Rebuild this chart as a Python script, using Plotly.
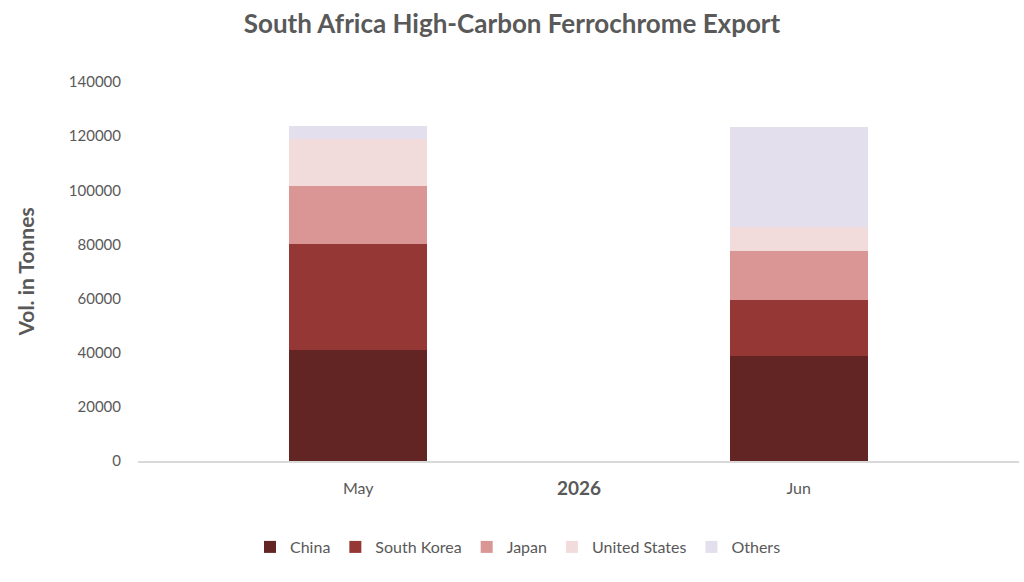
import plotly.graph_objects as go

categories = ["May", "Jun"]
series_names = ["China", "South Korea", "Japan", "United States", "Others"]
china = [41100, 38900]
south_korea = [39000, 20700]
japan = [21400, 18000]
united_states = [17300, 8850]
others = [5000, 37100]
colors = ["#632523", "#953735", "#D99694", "#F2DCDB", "#E4DFEC"]
y_ticks = [0, 20000, 40000, 60000, 80000, 100000, 120000, 140000]
y_tick_labels = [str(v) for v in y_ticks]

values = [china, south_korea, japan, united_states, others]
FONT = "Lato, Open Sans, sans-serif"
GRAY = "#595959"

fig = go.Figure()
for name, vals, col in zip(series_names, values, colors):
    fig.add_trace(go.Bar(x=categories, y=vals, name=name,
                         marker=dict(color=col, line=dict(width=0))))

fig.update_layout(
    barmode="stack",
    bargap=0.687,
    width=1024, height=582,
    paper_bgcolor="white", plot_bgcolor="white",
    margin=dict(l=137.5, r=4.5, t=81.5, b=120.5, autoexpand=False),
    font=dict(family=FONT, color=GRAY, size=14),
    title=dict(text="<b>South Africa High-Carbon Ferrochrome Export</b>",
               x=0.5, xref="container", xanchor="center",
               y=1 - 24 / 582, yref="container", yanchor="middle",
               font=dict(size=26, color=GRAY, family=FONT)),
    xaxis=dict(showgrid=False, showline=True, linecolor="#D9D9D9", linewidth=1.5,
               ticks="", tickfont=dict(size=16, color=GRAY), ticklabelstandoff=12,
               automargin=False),
    yaxis=dict(range=[0, 140000], tickvals=y_ticks, ticktext=y_tick_labels,
               showgrid=False, zeroline=False, automargin=False,
               showline=False, ticks="", tickfont=dict(size=15, color=GRAY),
               ticklabelstandoff=16,
               title=dict(text="<b>Vol. in Tonnes</b>", font=dict(size=21, color=GRAY),
                          standoff=28)),
    legend=dict(orientation="h", x=0.5 + 6 / 1024, xanchor="center", xref="container",
                y=35 / 582, yref="container", yanchor="middle",
                font=dict(size=16, color=GRAY), itemwidth=30,
                traceorder="normal"),
    annotations=[dict(text="<b>2026</b>", x=0.5, xref="paper",
                      y=(582 - 120.5 - 488) / (582 - 81.5 - 120.5), yref="paper",
                      yanchor="middle", showarrow=False,
                      font=dict(size=19, color=GRAY))],
)

fig.write_html("out.html", config={"displayModeBar": False},
               post_script="document.body.style.margin='0';document.body.style.padding='0';")
